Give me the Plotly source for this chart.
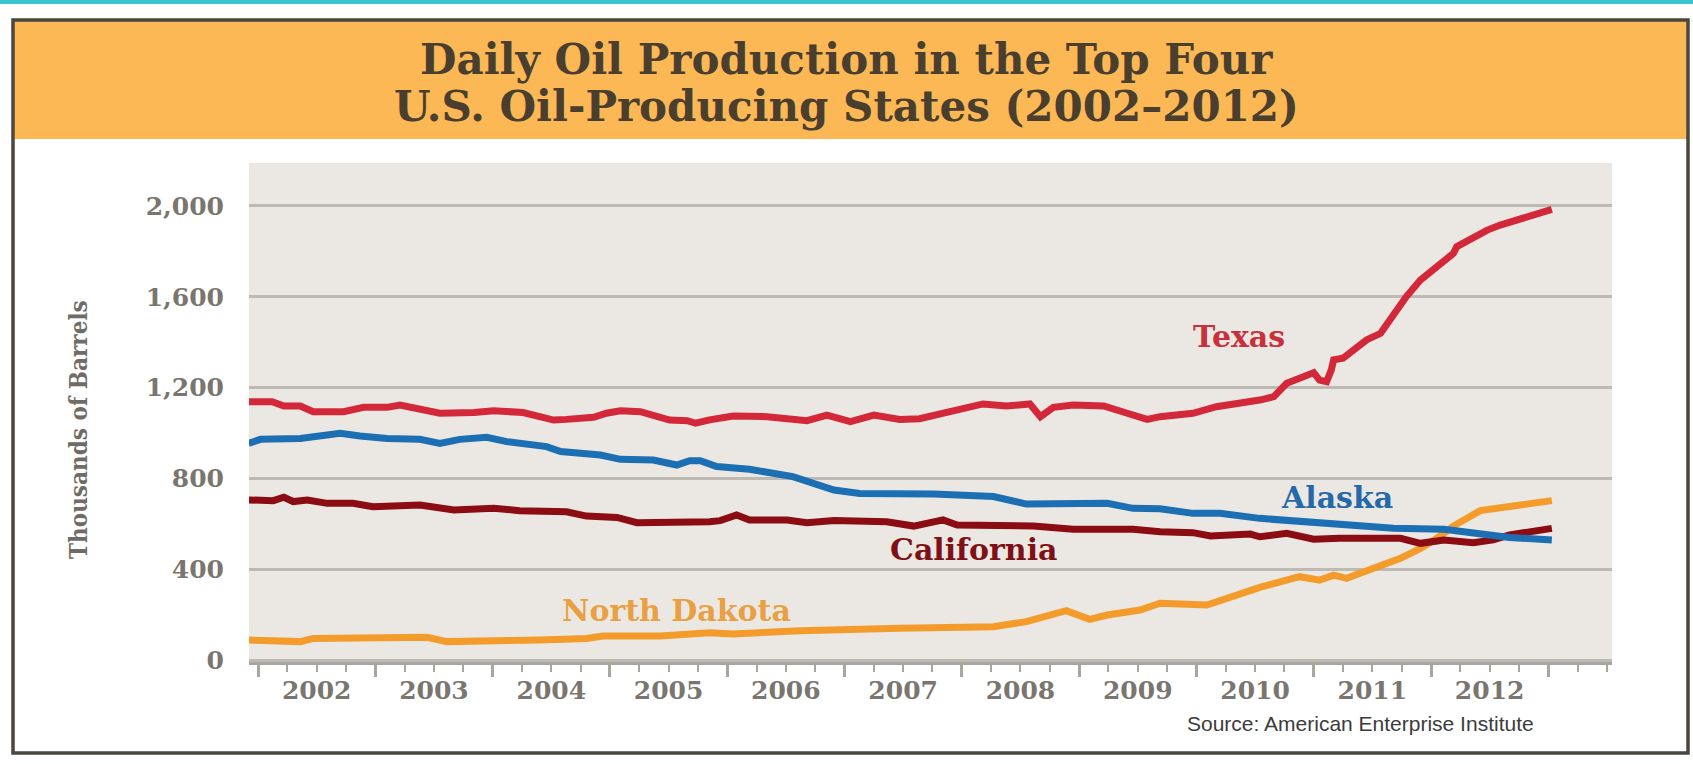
import plotly.graph_objects as go

# ---------------- data (thousands of barrels per day) ----------------
texas_x = [2001.92, 2002.12, 2002.22, 2002.36, 2002.47, 2002.73, 2002.90, 2003.10, 2003.21, 2003.32,
           2003.44, 2003.55, 2003.84, 2004.01, 2004.26, 2004.40, 2004.52, 2004.63, 2004.86, 2004.97,
           2005.09, 2005.26, 2005.37, 2005.51, 2005.66, 2005.73, 2005.85, 2005.94, 2006.05, 2006.34,
           2006.51, 2006.68, 2006.85, 2007.05, 2007.25, 2007.47, 2007.64, 2007.93, 2008.18, 2008.38,
           2008.58, 2008.67, 2008.78, 2008.95, 2009.21, 2009.41, 2009.58, 2009.69, 2009.83, 2009.97,
           2010.17, 2010.37, 2010.54, 2010.66, 2010.77, 2010.88, 2011.00, 2011.05, 2011.11, 2011.15,
           2011.17, 2011.25, 2011.34, 2011.45, 2011.57, 2011.68, 2011.79, 2011.91, 2012.05, 2012.13,
           2012.19, 2012.22, 2012.36, 2012.48, 2012.59, 2012.82, 2013.03]
texas = [1138, 1138, 1119, 1119, 1094, 1094, 1113, 1113, 1123, 1109,
         1101, 1087, 1090, 1098, 1090, 1069, 1057, 1060, 1069, 1087,
         1098, 1094, 1075, 1057, 1054, 1043, 1058, 1065, 1075, 1072,
         1060, 1054, 1079, 1050, 1079, 1060, 1063, 1094, 1128, 1119,
         1128, 1072, 1113, 1123, 1119, 1087, 1060, 1072, 1080, 1087,
         1116, 1128, 1145, 1160, 1219, 1241, 1266, 1233, 1226, 1278,
         1322, 1329, 1366, 1410, 1439, 1520, 1601, 1674, 1733, 1769,
         1791, 1821, 1865, 1894, 1916, 1953, 1985]

alaska_x = [2001.92, 2002.02, 2002.36, 2002.53, 2002.70, 2002.87, 2003.10, 2003.38, 2003.55, 2003.72,
            2003.95, 2004.12, 2004.46, 2004.58, 2004.92, 2005.09, 2005.37, 2005.57, 2005.68, 2005.77,
            2005.85, 2005.91, 2006.19, 2006.56, 2006.91, 2007.13, 2007.76, 2008.27, 2008.55, 2008.89,
            2009.24, 2009.46, 2009.69, 2009.97, 2010.20, 2010.54, 2011.05, 2011.28, 2011.68, 2012.11,
            2012.39, 2012.67, 2013.03]
alaska = [954, 972, 976, 991, 999, 987, 976, 972, 954, 972,
          981, 962, 940, 918, 903, 884, 881, 859, 878, 878,
          860, 852, 840, 808, 749, 734, 731, 720, 687, 687,
          690, 668, 666, 646, 646, 624, 602, 599, 580, 576,
          561, 540, 529]

california_x = [2001.92, 2002.13, 2002.22, 2002.30, 2002.42, 2002.59, 2002.81, 2002.98, 2003.38, 2003.67,
                2004.01, 2004.23, 2004.63, 2004.80, 2005.06, 2005.23, 2005.85, 2005.94, 2006.08, 2006.19,
                2006.51, 2006.68, 2006.91, 2007.36, 2007.59, 2007.84, 2007.96, 2008.61, 2008.95, 2009.46,
                2009.69, 2009.97, 2010.12, 2010.32, 2010.46, 2010.54, 2010.77, 2011.00, 2011.22, 2011.74,
                2011.91, 2012.11, 2012.36, 2012.53, 2012.67, 2013.03]
california = [705, 702, 717, 698, 705, 690, 690, 675, 683, 661,
              668, 658, 653, 634, 628, 605, 609, 614, 639, 617,
              617, 605, 614, 609, 590, 617, 595, 590, 576, 576,
              565, 561, 546, 555, 555, 543, 558, 532, 536, 536,
              514, 529, 517, 529, 551, 580]

north_dakota_x = [2001.92, 2002.36, 2002.47, 2003.44, 2003.61, 2004.18, 2004.40, 2004.80, 2004.94, 2005.43,
                  2005.71, 2005.85, 2006.05, 2006.62, 2007.47, 2008.27, 2008.55, 2008.78, 2008.89, 2009.09,
                  2009.24, 2009.52, 2009.69, 2010.09, 2010.26, 2010.54, 2010.88, 2011.05, 2011.17, 2011.28,
                  2011.51, 2011.74, 2011.91, 2012.05, 2012.19, 2012.42, 2012.70, 2013.03]
north_dakota = [88, 81, 95, 100, 81, 81, 88, 95, 106, 106,
                117, 120, 115, 129, 140, 147, 169, 198, 217, 179,
                198, 220, 250, 242, 272, 320, 367, 352, 374, 360,
                404, 448, 492, 536, 590, 658, 678, 702]

y_tick_values = [0, 400, 800, 1200, 1600, 2000]
y_tick_labels = ["0", "400", "800", "1,200", "1,600", "2,000"]
year_starts = [2002, 2003, 2004, 2005, 2006, 2007, 2008, 2009, 2010, 2011, 2012, 2013]
year_mids = [2002.5, 2003.5, 2004.5, 2005.5, 2006.5, 2007.5, 2008.5, 2009.5, 2010.5, 2011.5, 2012.5]
year_labels = ["2002", "2003", "2004", "2005", "2006", "2007", "2008", "2009", "2010", "2011", "2012"]

# label anchor positions (x in years, y in thousands of barrels)
series_labels = [
    ("Texas", 2010.36, 1423, "#c9303b"),
    ("Alaska", 2011.20, 718, "#2669a8"),
    ("California", 2008.10, 485, "#7f1015"),
    ("North Dakota", 2005.57, 220, "#e9a043"),
]

# ---------------- layout helpers ----------------
W, H = 1693, 764
L, R, T, B = 249, 1612, 163, 662
X_RANGE = [2001.923, 2013.543]
Y_RANGE = [-8.8, 2189.4]


def px(x):
    return (x - L) / (R - L)


def py(y):
    return (B - y) / (B - T)


SERIF = "DejaVu Serif"
AXIS_GRAY = "#a9a59f"
TEXT_GRAY = "#7a766f"

fig = go.Figure()
series = [
    ("North Dakota", north_dakota_x, north_dakota, "#f39c2c", "x"),
    ("California", california_x, california, "#8b0c12", "x"),
    ("Alaska", alaska_x, alaska, "#1d6fb4", "x"),
    ("Texas", texas_x, texas, "#d3283a", "x2"),
]
for name, xs, ys, color, xa in series:
    fig.add_trace(go.Scatter(x=xs, y=ys, mode="lines", name=name, xaxis=xa, yaxis="y",
                             line=dict(color=color, width=7), showlegend=False, hoverinfo="skip"))

annotations = []
for text, lx, ly, color in series_labels:
    annotations.append(dict(text=text, x=lx, y=ly, xref="x", yref="y", showarrow=False,
                            font=dict(family=SERIF, size=30, color=color, weight="bold")))

# title
annotations.append(dict(text="Daily Oil Production in the Top Four", x=px(846), y=py(60),
                        xref="paper", yref="paper", showarrow=False, xanchor="center", yanchor="middle",
                        font=dict(family=SERIF, size=42, color="#4a3f2f", weight="bold")))
annotations.append(dict(text="U.S. Oil-Producing States (2002\u20132012)", x=px(846), y=py(106),
                        xref="paper", yref="paper", showarrow=False, xanchor="center", yanchor="middle",
                        font=dict(family=SERIF, size=42, color="#4a3f2f", weight="bold")))
# y title
annotations.append(dict(text="Thousands of Barrels", x=px(78), y=py(430), xref="paper", yref="paper",
                        showarrow=False, textangle=-90, xanchor="center", yanchor="middle",
                        font=dict(family="DejaVu Serif Condensed, DejaVu Serif", size=24,
                                  color="#6f6c66", weight="bold")))
# source
annotations.append(dict(text="Source: American Enterprise Institute", x=px(1360), y=py(723),
                        xref="paper", yref="paper", showarrow=False, xanchor="center", yanchor="middle",
                        font=dict(family="Liberation Sans, Arial", size=21, color="#3c3c3c")))

shapes = [
    dict(type="rect", xref="paper", yref="paper", x0=px(0), x1=px(W), y0=py(4), y1=py(0),
         fillcolor="#39c4cf", line=dict(width=0), layer="below"),
    dict(type="rect", xref="paper", yref="paper", x0=px(13), x1=px(1688), y0=py(139), y1=py(20),
         fillcolor="#fbb855", line=dict(width=0), layer="below"),
    dict(type="rect", xref="paper", yref="paper", x0=px(13), x1=px(1688), y0=py(753), y1=py(20),
         fillcolor="rgba(0,0,0,0)", line=dict(color="#4a4640", width=3.5), layer="above"),
]

fig.update_layout(
    width=W, height=H,
    margin=dict(l=L, r=W - R, t=T, b=H - B, pad=0),
    paper_bgcolor="white", plot_bgcolor="#ebe8e3",
    showlegend=False,
    xaxis=dict(range=X_RANGE, showgrid=False, zeroline=False, showline=True, linecolor=AXIS_GRAY,
               linewidth=3, ticks="outside", tickmode="array", tickvals=year_starts, ticklen=12,
               tickwidth=3, tickcolor=AXIS_GRAY, showticklabels=False,
               minor=dict(ticks="outside", tickmode="linear", tick0=2002, dtick=0.25, ticklen=7,
                          tickwidth=2, tickcolor=AXIS_GRAY, showgrid=False)),
    xaxis2=dict(range=X_RANGE, overlaying="x", anchor="y", side="bottom", showgrid=False,
                zeroline=False, showline=False, ticks="", tickmode="array", tickvals=year_mids,
                ticktext=year_labels, ticklabelstandoff=11,
                tickfont=dict(family=SERIF, size=25, color=TEXT_GRAY, weight="bold")),
    yaxis=dict(range=Y_RANGE, showgrid=True, gridcolor="#bdb9b3", gridwidth=2.5, zeroline=False,
               showline=False, ticks="", tickmode="array", tickvals=y_tick_values,
               ticktext=y_tick_labels, ticklabelstandoff=24,
               tickfont=dict(family=SERIF, size=25, color=TEXT_GRAY, weight="bold")),
    annotations=annotations,
    shapes=shapes,
)

fig.write_html("out.html", config={"displayModeBar": False},
               post_script="document.body.style.margin='0px';")
